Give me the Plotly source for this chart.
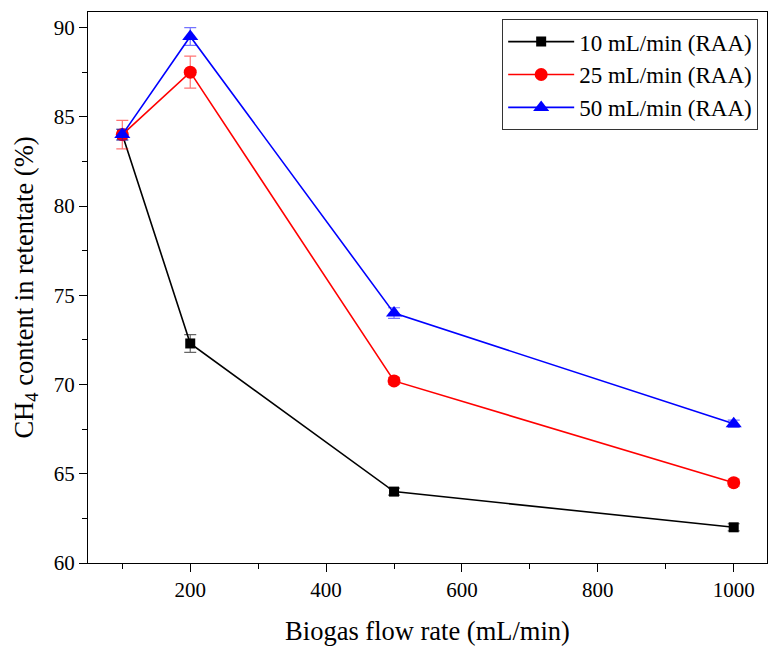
import plotly.graph_objects as go

flow = [100, 200, 500, 1000]
s10 = [84.0, 72.3, 64.0, 62.0]
s10_err = [0.3, 0.5, 0.2, 0.2]
s25 = [84.0, 87.5, 70.2, 64.5]
s25_err = [0.8, 0.9, 0.2, 0.2]
s50 = [84.0, 89.5, 74.0, 67.8]
s50_err = [0.3, 0.5, 0.3, 0.2]
names = ["10 mL/min (RAA)", "25 mL/min (RAA)", "50 mL/min (RAA)"]

FONT = "Liberation Serif, Times New Roman, serif"

fig = go.Figure()
specs = [
    (s10, s10_err, names[0], "black", "rgba(0,0,0,0.6)", "square", 10),
    (s25, s25_err, names[1], "red", "rgba(255,0,0,0.55)", "circle", 13),
    (s50, s50_err, names[2], "blue", "rgba(0,0,255,0.55)", "triangle-up", 14),
]
for y, e, n, c, ec, sym, sz in specs:
    fig.add_trace(go.Scatter(
        x=flow, y=y, name=n, mode="lines+markers",
        line=dict(color=c, width=1.6),
        marker=dict(symbol=sym, size=sz, color=c),
        error_y=dict(type="data", array=e, color=ec, thickness=1.2, width=6),
    ))

fig.update_layout(
    width=769, height=649,
    margin=dict(l=88, r=2, t=12, b=86),
    paper_bgcolor="white", plot_bgcolor="white",
    font=dict(family=FONT, size=21, color="black"),
    legend=dict(
        x=0.987, y=0.987, xanchor="right", yanchor="top",
        bordercolor="#333", borderwidth=1, bgcolor="white",
        font=dict(family=FONT, size=23), itemwidth=66,
        tracegroupgap=0,
    ),
    xaxis=dict(
        range=[49.5, 1049], tickvals=[200, 400, 600, 800, 1000],
        ticks="outside", ticklen=8, tickwidth=1.3, tickcolor="black",
        showline=True, linecolor="black", linewidth=1.3, mirror=True,
        showgrid=False, zeroline=False,
        minor=dict(tickvals=[100, 300, 500, 700, 900], ticks="outside", ticklen=5,
                   tickwidth=1.3, tickcolor="black", showgrid=False),
        tickfont=dict(family=FONT, size=21),
        title=dict(text="Biogas flow rate (mL/min)", font=dict(family=FONT, size=26.5), standoff=20),
    ),
    yaxis=dict(
        range=[60, 90.87], tickvals=[60, 65, 70, 75, 80, 85, 90],
        ticks="outside", ticklen=8, tickwidth=1.3, tickcolor="black",
        showline=True, linecolor="black", linewidth=1.3, mirror=True,
        showgrid=False, zeroline=False,
        minor=dict(tickvals=[62.5, 67.5, 72.5, 77.5, 82.5, 87.5], ticks="outside",
                   ticklen=5, tickwidth=1.3, tickcolor="black", showgrid=False),
        tickfont=dict(family=FONT, size=21),
        title=dict(text="CH<sub>4</sub> content in retentate (%)", font=dict(family=FONT, size=26.5), standoff=12),
    ),
)

fig.write_html("out.html")
